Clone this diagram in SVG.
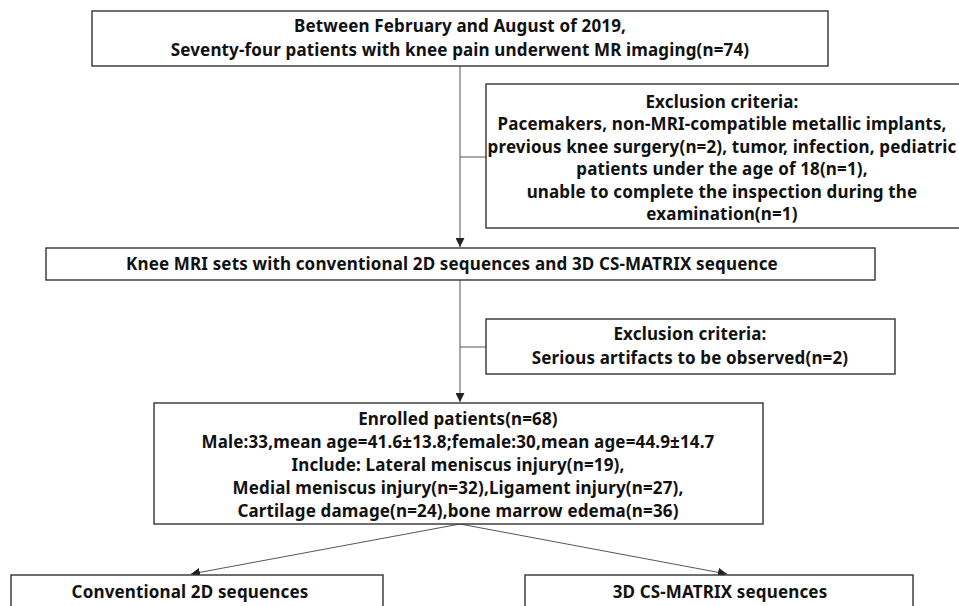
<svg xmlns="http://www.w3.org/2000/svg" width="959" height="606" viewBox="0 0 959 606">
<defs>
<marker id="arr" viewBox="0 0 10 10" refX="10" refY="5" markerWidth="9" markerHeight="9" markerUnits="userSpaceOnUse" orient="auto">
<path d="M0,0 L10,5 L0,10 z" fill="#222"/>
</marker>
<style>
.box{fill:#fff;stroke:#333;stroke-width:1.4}
.t{font-family:"Noto Sans","Noto Sans CJK SC",sans-serif;font-weight:bold;font-size:17px;letter-spacing:0.15px;fill:#111;text-anchor:middle}
.c{fill:none;stroke:#555;stroke-width:1}
</style>
</defs>
<rect width="959" height="606" fill="#fff"/>
<g id="connectors">
<line class="c" x1="460" y1="66" x2="460" y2="247" marker-end="url(#arr)"/>
<line class="c" x1="460" y1="157" x2="486" y2="157"/>
<line class="c" x1="460" y1="280" x2="460" y2="402" marker-end="url(#arr)"/>
<line class="c" x1="460" y1="347" x2="486" y2="347"/>
<line class="c" x1="460" y1="524" x2="191" y2="574" marker-end="url(#arr)"/>
<line class="c" x1="460" y1="524" x2="727" y2="574" marker-end="url(#arr)"/>
</g>
<g id="n1">
<rect class="box" x="92" y="11" width="736" height="55"/>
<text class="t" x="460" y="32">Between February and August of 2019,</text>
<text class="t" x="460" y="56">Seventy-four patients with knee pain underwent MR imaging(n=74)</text>
</g>
<g id="n2">
<rect class="box" x="486" y="84" width="480" height="144"/>
<text class="t" x="722" y="108">Exclusion criteria:</text>
<text class="t" x="722" y="130">Pacemakers, non-MRI-compatible metallic implants,</text>
<text class="t" x="722" y="153">previous knee surgery(n=2), tumor, infection, pediatric</text>
<text class="t" x="722" y="175">patients under the age of 18(n=1),</text>
<text class="t" x="722" y="198">unable to complete the inspection during the</text>
<text class="t" x="722" y="220">examination(n=1)</text>
</g>
<g id="n3">
<rect class="box" x="46" y="248" width="829" height="32"/>
<text class="t" x="452" y="270">Knee MRI sets with conventional 2D sequences and 3D CS-MATRIX sequence</text>
</g>
<g id="n4">
<rect class="box" x="486" y="319" width="409" height="55"/>
<text class="t" x="690" y="340">Exclusion criteria:</text>
<text class="t" x="690" y="364">Serious artifacts to be observed(n=2)</text>
</g>
<g id="n5">
<rect class="box" x="154" y="403" width="609" height="121"/>
<text class="t" x="458" y="425">Enrolled patients(n=68)</text>
<text class="t" x="458" y="448">Male:33,mean age=41.6±13.8;female:30,mean age=44.9±14.7</text>
<text class="t" x="458" y="471">Include: Lateral meniscus injury(n=19),</text>
<text class="t" x="458" y="494">Medial meniscus injury(n=32),Ligament injury(n=27),</text>
<text class="t" x="458" y="517">Cartilage damage(n=24),bone marrow edema(n=36)</text>
</g>
<g id="n6">
<rect class="box" x="11" y="575" width="372" height="40"/>
<text class="t" x="190" y="598">Conventional 2D sequences</text>
</g>
<g id="n7">
<rect class="box" x="525" y="575" width="388" height="40"/>
<text class="t" x="720" y="598">3D CS-MATRIX sequences</text>
</g>
</svg>
